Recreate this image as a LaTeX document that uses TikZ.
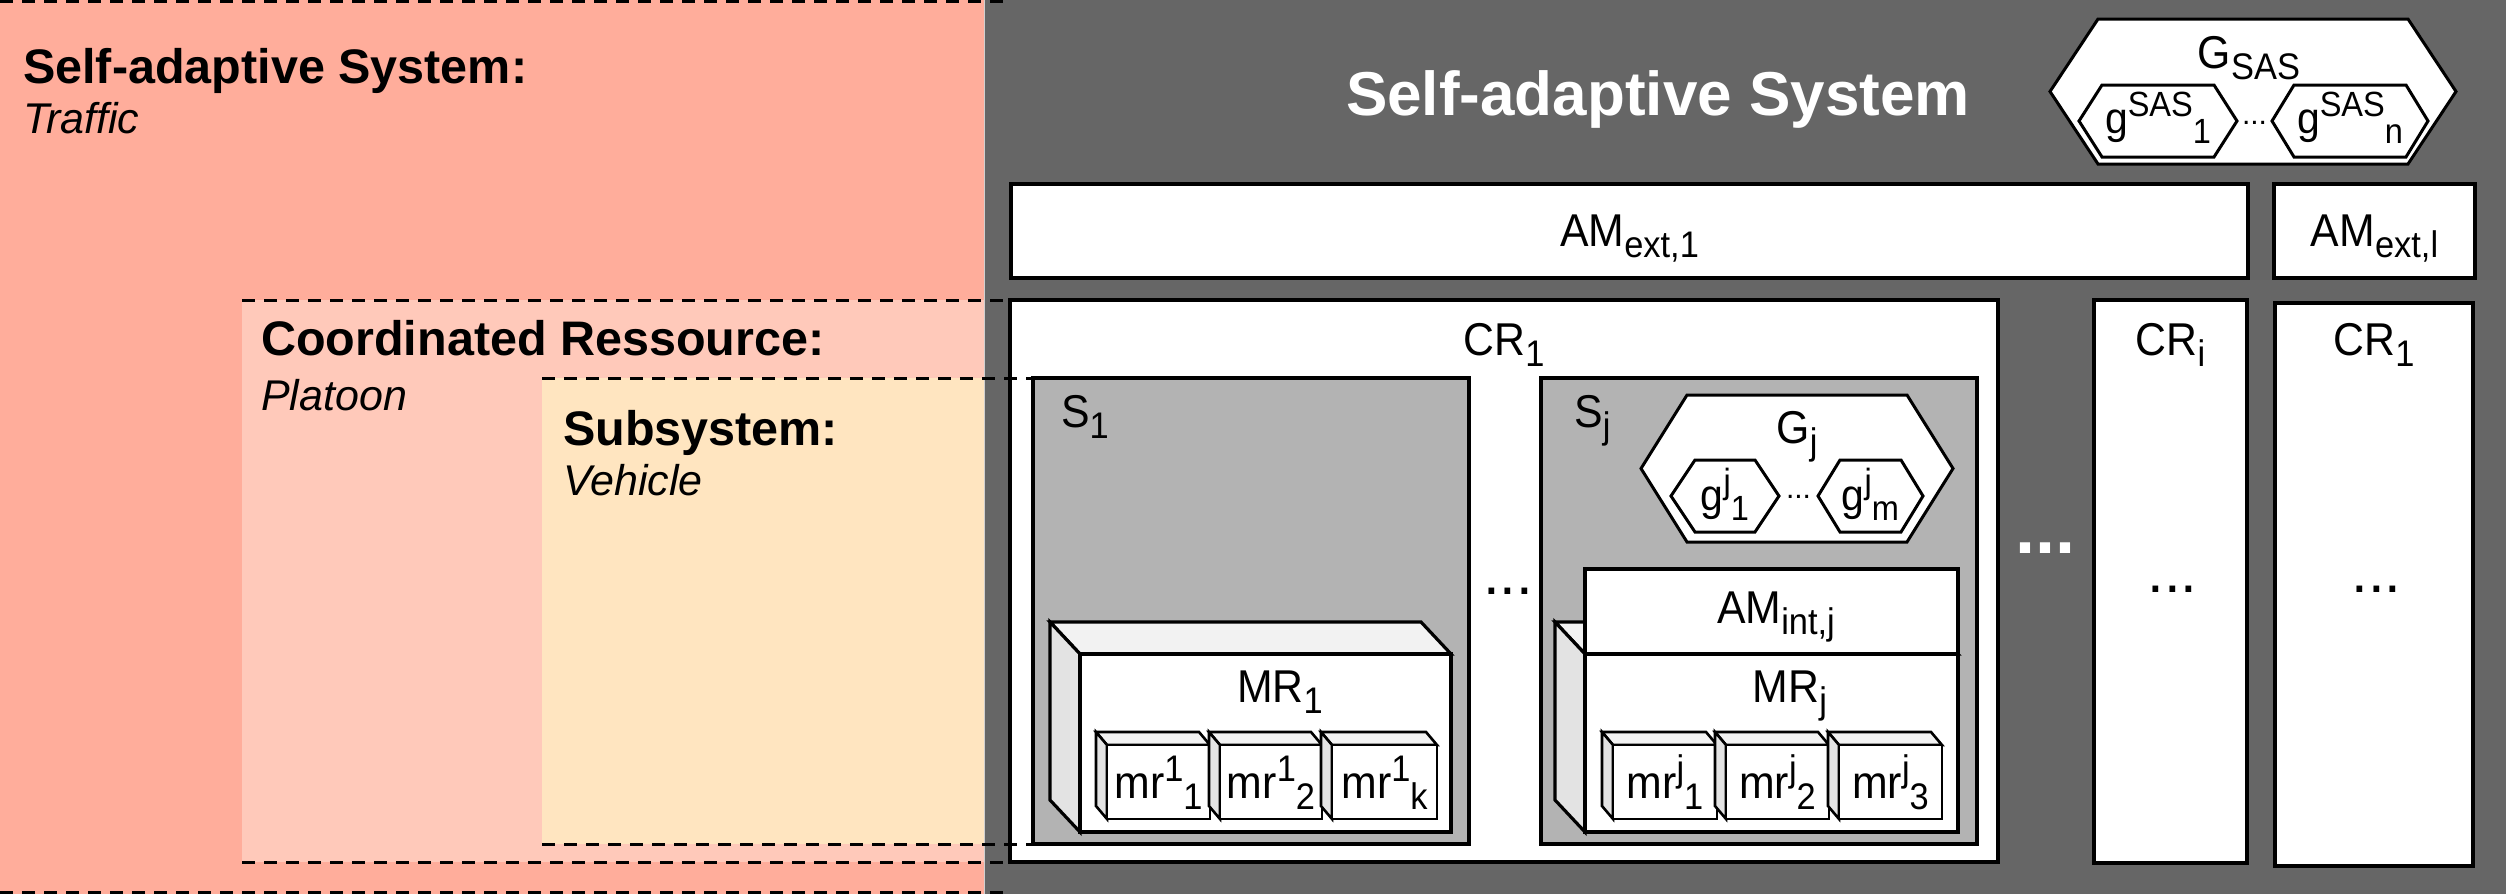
\documentclass[tikz,border=0pt]{standalone}
\usepackage{fontspec}
\setmainfont{Liberation Sans}
\newfontfamily\narrowf{Liberation Sans}[FakeStretch=0.93]
\usetikzlibrary{fit}

\definecolor{salmon}{HTML}{FFAD9B}
\definecolor{crpink}{HTML}{FFC9BA}
\definecolor{subcream}{HTML}{FFE5C0}
\definecolor{darkgray}{HTML}{666666}
\definecolor{sgray}{HTML}{B3B3B3}
\definecolor{topface}{HTML}{F2F2F2}
\definecolor{sideface}{HTML}{E3E3E3}
\definecolor{sepline}{HTML}{D0D0D0}

% font sizes
\newcommand{\mainsz}{\narrowf\fontsize{46}{50}\selectfont}
\newcommand{\hexsz}{\narrowf\fontsize{44}{48}\selectfont}
\newcommand{\scrsz}{\fontsize{37}{40}\selectfont}
\newcommand{\hexscr}{\fontsize{35}{38}\selectfont}
\newcommand{\headsz}{\fontsize{48.5}{52}\selectfont\bfseries}
\newcommand{\itsz}{\fontsize{43}{46}\selectfont\itshape}
\newcommand{\titlesz}{\fontsize{62}{68}\selectfont\bfseries}

% sub- and superscripts set one after another
\newcommand{\lsub}[1]{\raisebox{-0.24em}{\scrsz #1}}
\newcommand{\lsup}[1]{\raisebox{0.36em}{\scrsz #1}}
\newcommand{\hsub}[1]{\raisebox{-0.24em}{\hexscr #1}}
\newcommand{\hsup}[1]{\raisebox{0.38em}{\hexscr #1}}

\tikzset{
  zone/.style={inner sep=0pt, outer sep=0pt, draw=none},
  box/.style={draw, line width=3.2pt, fill=white, inner sep=0pt, outer sep=0pt},
  graybox/.style={box, fill=sgray},
  lab/.style={font=\mainsz, inner sep=0pt, anchor=base},
  dashln/.style={line width=3pt, dash pattern=on 13pt off 9pt},
  hexline/.style={draw, line width=3pt, fill=white, line join=miter},
  dots/.style={inner sep=0pt, anchor=center},
}

% hexagon: name, x1, y1, x2, y2, inset
\newcommand{\hexa}[6]{%
  \draw[hexline] (#2,{(#3+#5)/2}) -- (#2+#6,#3) -- (#4-#6,#3) -- (#4,{(#3+#5)/2})
    -- (#4-#6,#5) -- (#2+#6,#5) -- cycle;
  \coordinate (#1) at ({(#2+#4)/2},{(#3+#5)/2});
}

% box with visible top and left faces: name, x1, y1, x2, y2, dx, dy, line width
\newcommand{\cube}[8]{%
  \filldraw[fill=topface, line width=#8] (#2-#6,#3-#7) -- (#4-#6,#3-#7) -- (#4,#3) -- (#2,#3) -- cycle;
  \filldraw[fill=sideface, line width=#8] (#2-#6,#3-#7) -- (#2,#3) -- (#2,#5) -- (#2-#6,#5-#7) -- cycle;
  \node[box, line width=#8, fit={(#2,#3) (#4,#5)}] (#1) {};
}

\begin{document}
\begin{tikzpicture}[x=1pt, y=-1pt]
\useasboundingbox (0,0) rectangle (2506,894);

% ---------- nested levels on the left ----------
\node[zone, fill=salmon, fit={(0,0) (985,894)}] (saszone) {};
\node[zone, fill=crpink, fit={(242,300) (985,862)}] (crzone) {};
\node[zone, fill=subcream, fit={(542,378) (985,844)}] (subzone) {};

\node[inner sep=0pt, anchor=base west, font=\headsz] (hsas) at (23,83) {Self-adaptive System:};
\node[inner sep=0pt, anchor=base west, font=\itsz] (tsas) at (23,133) {Traffic};
\node[inner sep=0pt, anchor=base west, font=\headsz] (hcr) at (261,355) {Coordinated Ressource:};
\node[inner sep=0pt, anchor=base west, font=\itsz] (tcr) at (261,410) {Platoon};
\node[inner sep=0pt, anchor=base west, font=\headsz] (hss) at (563,445) {Subsystem:};
\node[inner sep=0pt, anchor=base west, font=\itsz] (tss) at (563,495) {Vehicle};

% ---------- self-adaptive system ----------
\node[zone, fill=darkgray, fit={(985,0) (2506,894)}] (sas) {};
\draw[sepline, line width=1.5pt] (984.3,0) -- (984.3,894);

\node[inner sep=0pt, anchor=base, font=\titlesz, text=white] (title) at (1658,115) {Self-adaptive System};

% goals of the system
\hexa{gsas}{2050}{19}{2456}{164}{48}
\node[lab] (gsaslab) at (2249,68) {G\lsub{SAS}};
\hexa{gsas1}{2079}{85}{2237}{157}{23}
\hexa{gsasn}{2272}{85}{2428}{157}{22}
\node[lab, font=\hexsz] (gsas1lab) at (2158,133) {g\hsup{SAS}\hsub{1}};
\node[lab, font=\hexsz] (gsasnlab) at (2350,133) {g\hsup{SAS}\hsub{n}};
\node[dots, font=\fontsize{30}{30}\selectfont] (gsasdots) at (2254.5,123) {...};

% external adaptation managers
\node[box, fit={(1011,184) (2248,278)}] (amext1) {};
\node[lab] (amext1lab) at (1629.5,246) {AM\lsub{ext,1}};
\node[box, fit={(2274,184) (2475,278)}] (amextl) {};
\node[lab] (amextllab) at (2374.5,246) {AM\lsub{ext,l}};

% coordinated resources
\node[box, fit={(1010,300) (1998,862)}] (crbox) {};
\node[lab] (crlab) at (1504,355) {CR\lsub{1}};
\node[box, fit={(2094,300) (2247,863)}] (cri) {};
\node[lab] (crilab) at (2170.5,355) {CR\lsub{i}};
\node[box, fit={(2275,303) (2473,866)}] (crlast) {};
\node[lab] (crlastlab) at (2374,355) {CR\lsub{1}};
\node[dots, text=white, font=\fontsize{72}{72}\selectfont\bfseries] (crdots) at (2045,548) {...};
\node[dots, font=\fontsize{60}{60}\selectfont] (cridots) at (2172.5,589) {...};
\node[dots, font=\fontsize{60}{60}\selectfont] (crlastdots) at (2376.5,589) {...};

% subsystem 1
\node[graybox, fit={(1033,378) (1469,844)}] (s1) {};
\node[lab, anchor=base west] (s1lab) at (1061,427) {S\lsub{1}};
\cube{mr1}{1080}{654}{1451}{832}{30}{32}{3.2pt}
\node[lab] (mr1lab) at (1280,702) {MR\lsub{1}};
\cube{mra}{1107}{745}{1210}{819}{11}{13}{2.6pt}
\cube{mrb}{1220}{745}{1322}{819}{11}{13}{2.6pt}
\cube{mrc}{1332}{745}{1437}{819}{11}{13}{2.6pt}
\node[lab] (mralab) at (1158.5,798) {mr\lsup{1}\lsub{1}};
\node[lab] (mrblab) at (1271,798) {mr\lsup{1}\lsub{2}};
\node[lab] (mrclab) at (1384.5,798) {mr\lsup{1}\lsub{k}};

\node[dots, font=\fontsize{60}{60}\selectfont] (sdots) at (1508,591) {...};

% subsystem j
\node[graybox, fit={(1541,378) (1977,844)}] (sj) {};
\node[lab, anchor=base west] (sjlab) at (1574,427) {S\lsub{j}};
\hexa{gj}{1641}{395}{1953}{542}{46}
\node[lab] (gjlab) at (1797,443) {G\lsub{j}};
\hexa{gj1}{1671}{460}{1779}{532}{24}
\hexa{gjm}{1818}{460}{1923}{532}{22}
\node[lab, font=\hexsz] (gj1lab) at (1725,510) {g\hsup{j}\hsub{1}};
\node[lab, font=\hexsz] (gjmlab) at (1870.5,510) {g\hsup{j}\hsub{m}};
\node[dots, font=\fontsize{30}{30}\selectfont] (gjdots) at (1798.5,497) {...};

\cube{mrj}{1585}{654}{1958}{832}{30}{32}{3.2pt}
\node[box, fit={(1585,569) (1958,654)}] (amint) {};
\node[lab] (amintlab) at (1776,623) {AM\lsub{int,j}};
\node[lab] (mrjlab) at (1790,702) {MR\lsub{j}};
\cube{mrja}{1613}{745}{1717}{819}{11}{13}{2.6pt}
\cube{mrjb}{1726}{745}{1829}{819}{11}{13}{2.6pt}
\cube{mrjc}{1839}{745}{1942}{819}{11}{13}{2.6pt}
\node[lab] (mrjalab) at (1665,798) {mr\lsup{j}\lsub{1}};
\node[lab] (mrjblab) at (1777.5,798) {mr\lsup{j}\lsub{2}};
\node[lab] (mrjclab) at (1890.5,798) {mr\lsup{j}\lsub{3}};

% ---------- dashed links between levels ----------
\coordinate (sastopw) at (0,1.5);
\coordinate (sastope) at (1008,1.5);
\coordinate (sasbotw) at (0,892.5);
\coordinate (sasbote) at (1008,892.5);
\draw[dashln] (sastopw) -- (sastope);
\draw[dashln] (sasbotw) -- (sasbote);
\draw[dashln] (crzone.north west) -- (crbox.north west);
\draw[dashln] (crzone.south west) -- (crbox.south west);
\draw[dashln] (subzone.north west) -- (s1.north west);
\draw[dashln] (subzone.south west) -- (s1.south west);
\end{tikzpicture}
\end{document}
